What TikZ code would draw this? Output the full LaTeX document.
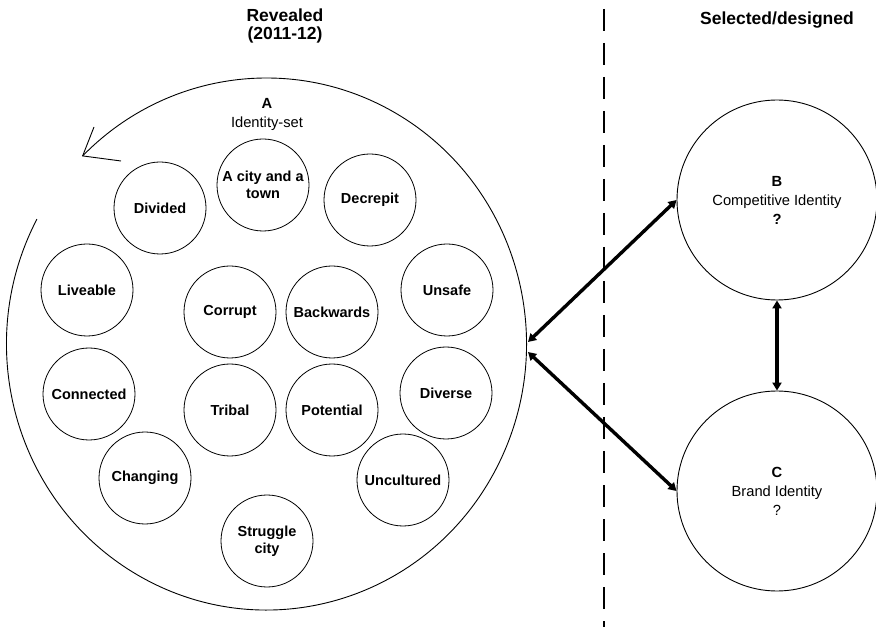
\documentclass[tikz,border=0pt]{standalone}
\usepackage{fontspec}
\setmainfont{Liberation Sans}
\usetikzlibrary{arrows.meta}
\begin{document}
\begin{tikzpicture}[x=1pt,y=1pt,
  idc/.style={circle,draw,line width=0.8pt,minimum size=92pt,inner sep=0pt,align=center,font=\fontsize{14.5}{17}\selectfont\bfseries},
  bigc/.style={circle,draw,line width=0.9pt,minimum size=200pt,inner sep=0pt},
  lbl/.style={align=center,font=\fontsize{14.7}{19}\selectfont},
  ttl/.style={font=\fontsize{17.5}{16}\selectfont\bfseries,anchor=base},
  link/.style={line width=3.4pt,{Triangle[length=8pt,width=9pt]}-{Triangle[length=8pt,width=9pt]}},
]
\useasboundingbox (0,0) rectangle (876,638);
% titles
\node[ttl] (t1) at (285,616) {Revealed};
\node[ttl] (t2) at (285,598) {(2011-12)};
\node[ttl] (t3) at (777,613) {Selected/designed};
% big identity-set circle with arrow
\coordinate (ctr) at (266.5,294);
\draw[line width=0.9pt] ([shift={(152:260pt and 266pt)}]ctr) arc[start angle=152,end angle=495,x radius=260pt,y radius=266pt];
\coordinate (tip) at ([shift={(135:260pt and 266pt)}]ctr);
\coordinate (barb1) at (94,511);
\coordinate (barb2) at (121,477);
\draw[line width=0.9pt] (barb1) -- (tip) -- (barb2);
\node[lbl] (A) at (267,524) {\textbf{A}\\Identity-set};
% inner circles
\node[idc] (divided) at (160,430) {Divided};
\node[idc] (city) at (263,453) {A city and a\\town};
\node[idc] (decrepit) at (370,438) {Decrepit};
\node[idc] (liveable) at (87,348) {Liveable};
\node[idc] (connected) at (89,244) {Connected};
\node[idc] (unsafe) at (447,348) {Unsafe};
\node[idc] (diverse) at (446,245) {Diverse};
\node[idc] (corrupt) at (230,326) {Corrupt};
\node[idc] (backwards) at (332,326) {Backwards};
\node[idc] (tribal) at (230,228) {Tribal};
\node[idc] (potential) at (332,228) {Potential};
\node[idc] (changing) at (145,160) {Changing};
\node[idc] (struggle) at (267,97) {Struggle\\city};
\node[idc] (uncultured) at (403,158) {Uncultured};
% divider
\coordinate (dtop) at (604,629);
\coordinate (dbot) at (604,11);
\draw[line width=2.8pt,dash pattern=on 22pt off 12pt] (dtop) -- (dbot);
% B and C
\node[bigc] (B) at (777,438) {};
\node[lbl] (Bt) at (B.center) {\textbf{B}\\Competitive Identity\\\textbf{?}};
\node[bigc] (C) at (777,147) {};
\node[lbl] (Ct) at (C.center) {\textbf{C}\\Brand Identity\\?};
% connectors
\coordinate (a1) at (528,296);
\coordinate (a2) at (528,286);
\draw[link] (a1) -- (B.west);
\draw[link] (a2) -- (C.west);
\draw[link] (B.south) -- (C.north);
\end{tikzpicture}
\end{document}
